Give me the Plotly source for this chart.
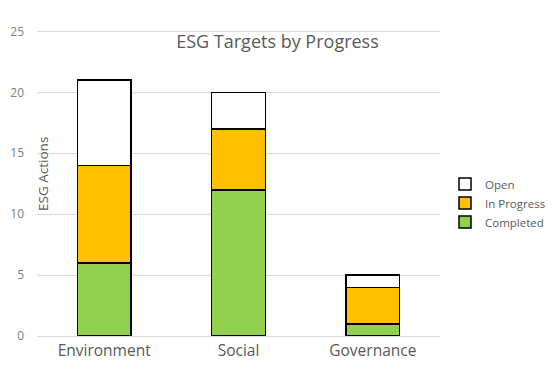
import plotly.graph_objects as go

categories = ["Environment", "Social", "Governance"]
completed = [6, 12, 1]
in_progress = [8, 5, 3]
open_ = [7, 3, 1]
series_names = ["Completed", "In Progress", "Open"]
series_colors = ["#92D050", "#FFC000", "#FFFFFF"]
y_ticks = [0, 5, 10, 15, 20, 25]

fig = go.Figure()
for name, vals, col in zip(series_names, [completed, in_progress, open_], series_colors):
    fig.add_trace(go.Bar(
        x=categories, y=vals, name=name,
        marker=dict(color=col, line=dict(color="#000000", width=1.5)),
    ))

grey = "#595959"
W, H = 547, 372
fig.update_layout(
    width=W, height=H,
    barmode="stack", bargap=0.6,
    plot_bgcolor="white", paper_bgcolor="white",
    margin=dict(l=29, r=115, t=20.6, b=44, autoexpand=False),
    font=dict(family="Open Sans, Calibri, sans-serif", color=grey),
    title=dict(text="ESG Targets by Progress", x=(277.5 - 8) / W, xanchor="center",
               y=1 - 34 / H, yanchor="middle",
               font=dict(size=18, color=grey)),
    showlegend=True,
    legend=dict(traceorder="reversed", xref="container", x=437 / W, xanchor="left",
                y=0.433, yanchor="middle",
                font=dict(size=11.5, color=grey), itemwidth=30),
    xaxis=dict(showgrid=False, showline=True, linecolor="#D9D9D9", linewidth=1,
               tickfont=dict(size=15.5, color=grey), ticks=""),
    yaxis=dict(range=[0, 25.2], tickvals=y_ticks, showgrid=True, gridcolor="#D9D9D9",
               zeroline=False, showline=False, tickfont=dict(size=12, color="#7F7F7F"),
               ticklabelstandoff=12),
)
fig.add_annotation(text="ESG Actions", textangle=-90, xref="paper", yref="paper",
                   x=0.015, y=0.528, xanchor="center", yanchor="middle",
                   showarrow=False, font=dict(size=13.5, color=grey))
fig.write_html("out.html")
